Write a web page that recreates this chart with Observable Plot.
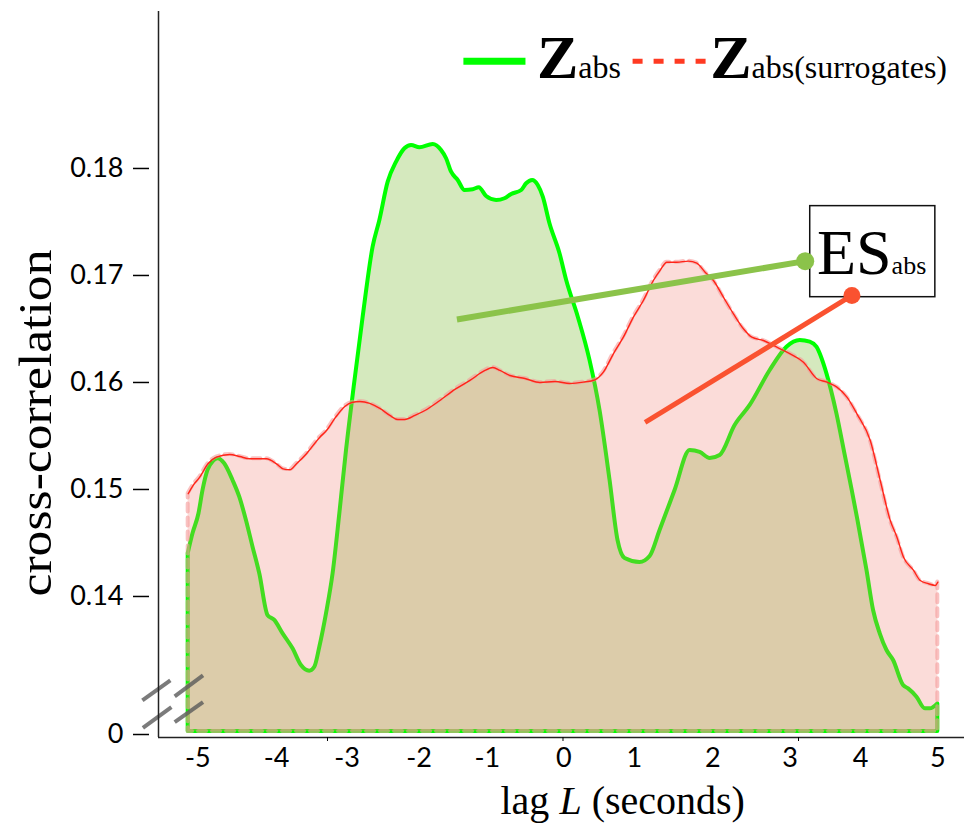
<!DOCTYPE html>
<html><head><meta charset="utf-8">
<script src="https://cdn.jsdelivr.net/npm/d3@7"></script>
<script src="https://cdn.jsdelivr.net/npm/@observablehq/plot@0.6"></script>
<style>html,body{margin:0;padding:0;background:#fff}#chart svg{display:block}</style>
</head><body><div id="chart"></div>
<script>
// ---- data ----
const lagZ = [-5.0,-4.936,-4.856,-4.802,-4.736,-4.66,-4.602,-4.513,-4.402,-4.312,-4.223,-4.135,-4.045,-3.935,-3.845,-3.734,-3.601,-3.489,-3.378,-3.311,-3.244,-3.155,-3.067,-2.977,-2.888,-2.78,-2.666,-2.533,-2.443,-2.332,-2.22,-2.109,-2.02,-1.909,-1.732,-1.62,-1.553,-1.486,-1.398,-1.308,-1.198,-1.117,-1.019,-0.885,-0.774,-0.685,-0.551,-0.485,-0.405,-0.33,-0.263,-0.174,-0.04,0.049,0.204,0.36,0.494,0.628,0.734,0.828,1.028,1.162,1.295,1.495,1.696,1.829,1.963,2.096,2.296,2.497,2.764,2.987,3.164,3.298,3.387,3.521,3.654,3.765,3.858,3.935,4.055,4.143,4.232,4.322,4.41,4.543,4.61,4.722,4.833,4.9,5.0];
const zAbs = [0.14371,0.14558,0.14745,0.14963,0.1515,0.15236,0.15259,0.15212,0.15056,0.149,0.14682,0.14433,0.14184,0.13794,0.13748,0.13623,0.13483,0.13327,0.13274,0.13311,0.13498,0.1381,0.14184,0.14745,0.15336,0.1596,0.16582,0.17236,0.17486,0.17844,0.18031,0.18156,0.18187,0.18165,0.18196,0.1814,0.18063,0.17937,0.1786,0.17766,0.17773,0.17792,0.1771,0.17673,0.17689,0.17729,0.17766,0.17829,0.1786,0.17813,0.17704,0.17455,0.17175,0.16925,0.16582,0.16178,0.1571,0.15056,0.14495,0.14327,0.1429,0.14346,0.14589,0.14963,0.15336,0.15318,0.15262,0.1529,0.1557,0.15757,0.16084,0.16302,0.16364,0.16349,0.16302,0.16053,0.15679,0.1529,0.14963,0.14682,0.14215,0.13841,0.13623,0.13467,0.13374,0.1314,0.13109,0.13031,0.12922,0.12922,0.12969];

const lagS = [-5.0,-4.936,-4.846,-4.736,-4.623,-4.446,-4.312,-4.179,-3.956,-3.822,-3.734,-3.645,-3.555,-3.422,-3.244,-3.155,-3.044,-2.911,-2.817,-2.71,-2.577,-2.443,-2.31,-2.203,-2.109,-1.976,-1.842,-1.642,-1.442,-1.242,-1.041,-0.935,-0.841,-0.708,-0.507,-0.307,-0.107,0.093,0.271,0.427,0.538,0.672,0.805,0.939,1.072,1.206,1.295,1.385,1.518,1.673,1.785,1.896,2.007,2.14,2.274,2.407,2.519,2.674,2.853,3.031,3.208,3.387,3.521,3.654,3.788,3.921,4.099,4.232,4.366,4.455,4.543,4.677,4.766,4.877,4.967,5.0];
const zSur = [0.14932,0.15009,0.15087,0.15212,0.15274,0.15299,0.1528,0.15259,0.15259,0.15212,0.15165,0.15156,0.15212,0.15306,0.15461,0.15523,0.15636,0.15748,0.15785,0.15794,0.15776,0.15729,0.15664,0.15626,0.15626,0.15664,0.1571,0.15804,0.15907,0.15991,0.16084,0.16112,0.16084,0.16037,0.16009,0.15972,0.15981,0.15963,0.15975,0.15997,0.16068,0.1624,0.16395,0.16582,0.16738,0.16925,0.17019,0.17096,0.17096,0.17106,0.17087,0.17003,0.16925,0.16769,0.16614,0.16474,0.16395,0.16364,0.16302,0.1624,0.16162,0.16007,0.15975,0.15928,0.15835,0.15679,0.1543,0.15056,0.14682,0.14526,0.14339,0.14215,0.14121,0.14091,0.14075,0.14106];

// broken axis: the bottom of the axis (labelled "0") sits at the break value
const yBreak = 0.1271;
const yTicks = [yBreak, 0.14, 0.15, 0.16, 0.17, 0.18];
const yTickLabels = ["0", "0.14", "0.15", "0.16", "0.17", "0.18"];
const xLabels = ["-5","-4","-3","-2","-1","0","1","2","3","4","5"];
const xLabelPos = [-4.87,-3.82,-2.88,-1.92,-1.01,0.01,0.95,2.0,3.03,3.97,5.0];
const xTicks = [-Math.PI, 0, Math.PI];

// annotation geometry (data units)
const esGreen = [{x1: -1.415, y1: 0.16561, x2: 3.231, y2: 0.17106}];
const esRed = [{x1: 1.095, y1: 0.15598, x2: 3.854, y2: 0.16785}];
const esBox = [{x1: 3.298, x2: 4.967, y1: 0.16769, y2: 0.1762}];
const esLabel = [{x: 3.387, y: 0.16988, text: "ESabs"}];
const legendLines = [
  {x1: -1.322, x2: -0.494, y: 0.18975},
  {x1: 0.935, x2: 1.923, y: 0.18975}
];
const legendText = [
  {x: -0.347, y: 0.18813, text: "Zabs"},
  {x: 1.963, y: 0.18813, text: "Zabs(surrogates)"}
];
const breaks = [
  {x1: -5.611, y1: 0.13000, x2: -5.238, y2: 0.13187},
  {x1: -5.604, y1: 0.12745, x2: -5.224, y2: 0.12938},
  {x1: -5.180, y1: 0.13038, x2: -4.802, y2: 0.13234},
  {x1: -5.180, y1: 0.12798, x2: -4.802, y2: 0.12984}
];

const xDomain = [-5.396, 5.356];
const yDomain = [0.12654, 0.19439];

const green = lagZ.map((x, i) => ({x, y: zAbs[i]}));
const sur = lagS.map((x, i) => ({x, y: zSur[i]}));

const serif = "Liberation Serif, Times New Roman, serif";
const sans = "Lato, Open Sans, sans-serif";

const chart = Plot.plot({
  width: 964,
  height: 833,
  marginLeft: 158,
  marginRight: 0,
  marginTop: 11,
  marginBottom: 96,
  style: {fontFamily: sans, fontSize: "27px", color: "#000", background: "#fff"},
  x: {domain: xDomain},
  y: {domain: yDomain},
  marks: [
    Plot.areaY(green, {x: "x", y1: yBreak, y2: "y", curve: "monotone-x",
      fill: "#8bc34a", fillOpacity: 0.36, stroke: "#00ff00", strokeWidth: 4}),
    Plot.areaY(sur, {x: "x", y1: yBreak, y2: "y", curve: "monotone-x",
      fill: "#f08078", fillOpacity: 0.28}),
    Plot.areaY(sur, {x: "x", y1: yBreak, y2: "y", curve: "monotone-x",
      fill: "none", stroke: "#f59a9a", strokeOpacity: 0.6, strokeWidth: 4, strokeDasharray: "8,6"}),
    Plot.line(sur, {x: "x", y: "y", curve: "monotone-x", stroke: "#ff2418", strokeWidth: 1.4}),
    Plot.link(breaks, {x1: "x1", y1: "y1", x2: "x2", y2: "y2", stroke: "#5a5a5a", strokeOpacity: 0.8, strokeWidth: 4}),
    Plot.ruleX([xDomain[0]], {stroke: "#222", strokeWidth: 1.5}),
    Plot.ruleY([yDomain[0]], {stroke: "#222", strokeWidth: 1.5}),
    Plot.axisY({ticks: yTicks, tickFormat: d => yTickLabels[yTicks.indexOf(d)], tickSize: 16, tickPadding: 10, dx: -9, dy: 3, label: null, fontSize: 27, fontFamily: sans, strokeWidth: 1.5}),
    Plot.axisX({ticks: xTicks, tickFormat: () => "", tickSize: 4, label: null}),
    Plot.text(xLabels, {x: xLabelPos, frameAnchor: "bottom", dy: 29, fontSize: 27, fontFamily: sans}),
    Plot.text(["lag L (seconds)"], {frameAnchor: "bottom", textAnchor: "start", dx: -61, dy: 76, lineAnchor: "bottom", fontSize: 40, fontFamily: serif}),
    Plot.text(["cross-correlation"], {frameAnchor: "left", textAnchor: "start", rotate: -90, dx: -108, dy: 222, lineAnchor: "bottom", fontSize: 47, fontFamily: serif}),
    Plot.link(esGreen, {x1: "x1", y1: "y1", x2: "x2", y2: "y2", stroke: "#8bc34a", strokeWidth: 6}),
    Plot.link(esRed, {x1: "x1", y1: "y1", x2: "x2", y2: "y2", stroke: "#fa5230", strokeWidth: 5}),
    Plot.rect(esBox, {x1: "x1", x2: "x2", y1: "y1", y2: "y2", fill: "white", stroke: "#111", strokeWidth: 1.5}),
    Plot.dot(esGreen, {x: "x2", y: "y2", r: 9, fill: "#8bc34a"}),
    Plot.dot(esRed, {x: "x2", y: "y2", r: 8.5, fill: "#fa5230"}),
    Plot.text(esLabel, {x: "x", y: "y", text: "text", textAnchor: "start", lineAnchor: "bottom", fontSize: 64, fontFamily: serif, fill: "#000"}),
    Plot.ruleY([legendLines[0]], {x1: "x1", x2: "x2", y: "y", stroke: "#00ff00", strokeWidth: 7}),
    Plot.ruleY([legendLines[1]], {x1: "x1", x2: "x2", y: "y", stroke: "#ff3a22", strokeWidth: 5, strokeDasharray: "10,11"}),
    Plot.text(legendText, {x: "x", y: "y", text: "text", textAnchor: "start", lineAnchor: "bottom", fontSize: 32, fontFamily: serif, fill: "#000"})
  ]
});
document.getElementById("chart").appendChild(chart);

// rich text: subscripts, bold Z, italic L
const svg = chart.tagName.toLowerCase() === "svg" ? chart : chart.querySelector("svg");
svg.querySelectorAll("text").forEach(t => {
  const s = t.textContent;
  if (s === "Zabs") {
    t.innerHTML = '<tspan font-weight="bold" font-size="62">Z</tspan><tspan font-size="32">abs</tspan>';
  } else if (s === "Zabs(surrogates)") {
    t.innerHTML = '<tspan font-weight="bold" font-size="62">Z</tspan><tspan font-size="32">abs(surrogates)</tspan>';
  } else if (s === "ESabs") {
    t.innerHTML = '<tspan font-size="64">ES</tspan><tspan font-size="26">abs</tspan>';
  } else if (s === "lag L (seconds)") {
    t.innerHTML = 'lag <tspan font-style="italic">L</tspan> (seconds)';
  } else if (s === "cross-correlation") {
    t.setAttribute("textLength", 347);
    t.setAttribute("lengthAdjust", "spacingAndGlyphs");
  }
});
</script>
</body></html>
